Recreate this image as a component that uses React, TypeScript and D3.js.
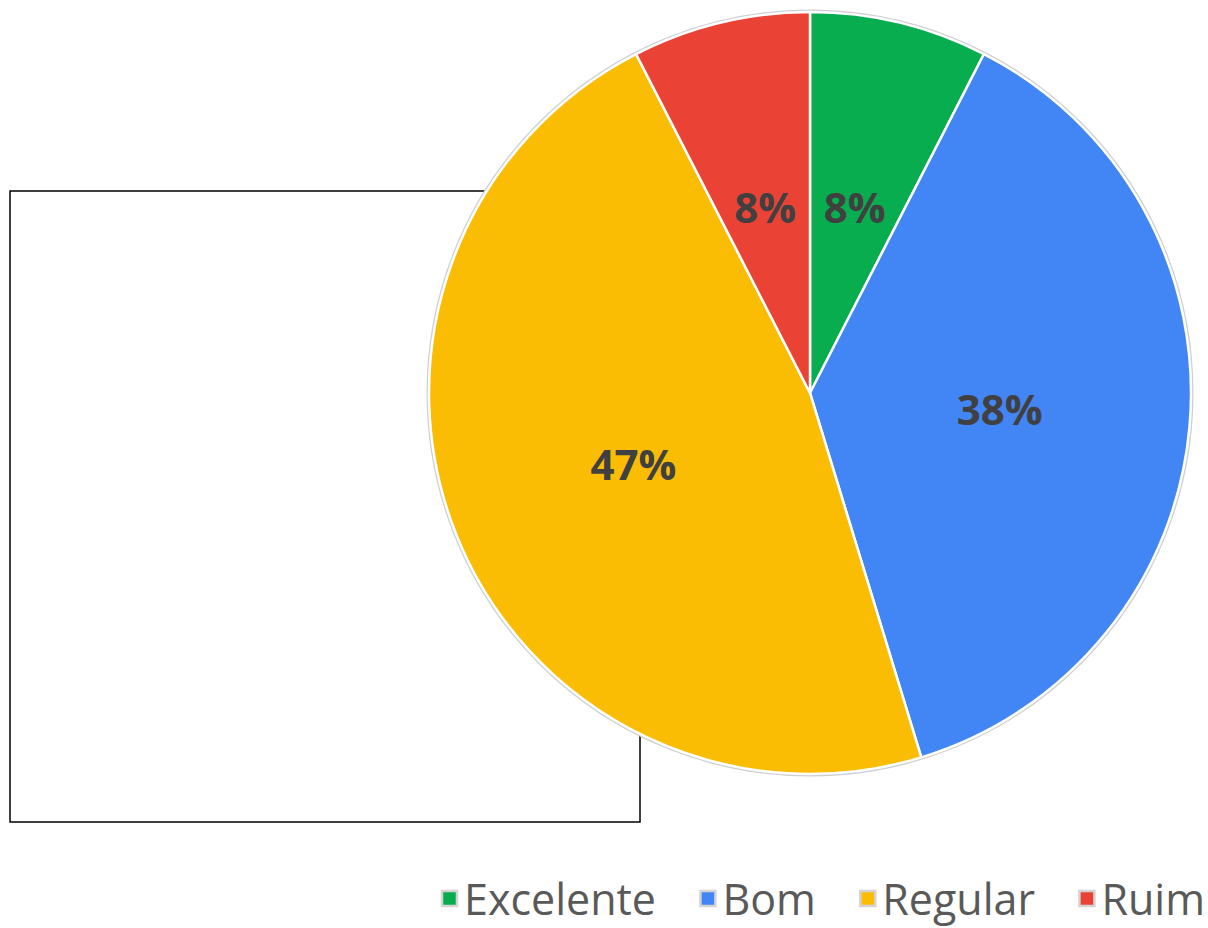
import React, { useRef, useEffect } from "react";
import * as d3 from "d3";

const categories = ["Excelente", "Bom", "Regular", "Ruim"];
const counts = [4, 20, 25, 4];
const labels = ["8%", "38%", "47%", "8%"];
const colors = ["#07ad4f", "#4285f4", "#fbbc04", "#ea4335"];

const App: React.FC = () => {
  const ref = useRef<SVGSVGElement>(null);

  useEffect(() => {
    if (!ref.current) return;
    const svg = d3.select(ref.current);
    svg.selectAll("*").remove();

    const cx = 810;
    const cy = 393;
    const r = 381;

    // empty frame behind the pie
    svg
      .append("rect")
      .attr("x", 10)
      .attr("y", 191)
      .attr("width", 630)
      .attr("height", 631)
      .attr("fill", "#fff")
      .attr("stroke", "#000")
      .attr("stroke-width", 1.5);

    const pie = d3
      .pie<number>()
      .sort(null)
      .value((d) => d);
    const arcs = pie(counts);
    const arc = d3.arc<d3.PieArcDatum<number>>().innerRadius(0).outerRadius(r);

    const g = svg.append("g").attr("transform", `translate(${cx},${cy})`);

    // soft outer border
    g.append("circle")
      .attr("r", r + 1.5)
      .attr("fill", "none")
      .attr("stroke", "#cfcfcf")
      .attr("stroke-width", 2);

    g.selectAll("path.slice")
      .data(arcs)
      .enter()
      .append("path")
      .attr("class", "slice")
      .attr("d", arc)
      .attr("fill", (d, i) => colors[i])
      .attr("stroke", "#fff")
      .attr("stroke-width", 2.5);

    g.selectAll("text.lbl")
      .data(arcs)
      .enter()
      .append("text")
      .attr("class", "lbl")
      .attr("transform", (d) => {
        const [x, y] = arc.centroid(d);
        return `translate(${x},${y})`;
      })
      .attr("text-anchor", "middle")
      .attr("dy", "0.36em")
      .attr("font-family", "'Open Sans', 'Noto Sans', sans-serif")
      .attr("font-weight", "bold")
      .attr("font-size", 42)
      .attr("fill", "#404040")
      .text((d, i) => labels[i]);

    // legend, spread between x=440 and the right edge
    const legend = svg.append("g");
    const items = categories.map((c, i) => {
      const it = legend.append("g");
      it.append("rect")
        .attr("x", 2)
        .attr("width", 15)
        .attr("height", 15)
        .attr("y", -24)
        .attr("fill", colors[i])
        .attr("stroke", "#d4d4d4")
        .attr("stroke-width", 2.5);
      const t = it
        .append("text")
        .attr("x", 24)
        .attr("font-family", "'Open Sans', 'Noto Sans', sans-serif")
        .attr("font-size", 43)
        .attr("fill", "#595959")
        .text(c);
      const w = (t.node() as SVGTextElement).getComputedTextLength();
      return { it, w: 24 + w };
    });
    const left = 440;
    const right = 1205;
    const sum = items.reduce((s, d) => s + d.w, 0);
    const gap = (right - left - sum) / (items.length - 1);
    let x = left;
    items.forEach((d) => {
      d.it.attr("transform", `translate(${x},915)`);
      x += d.w + gap;
    });

    return () => {
      svg.selectAll("*").remove();
    };
  }, []);

  return (
    <div style={{ position: "absolute", left: 0, top: 0 }}>
      <svg ref={ref} width={1208} height={928} style={{ display: "block", background: "#fff" }} />
    </div>
  );
};

export default App;
